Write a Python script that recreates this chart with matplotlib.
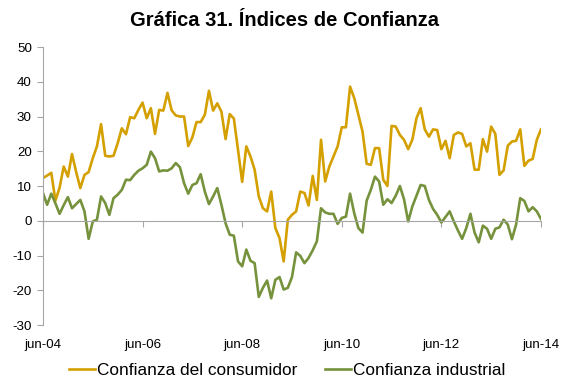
import numpy as np
import matplotlib.pyplot as plt
from matplotlib.lines import Line2D

plt.rcParams['font.family'] = ['Liberation Sans', 'DejaVu Sans']
plt.rcParams['axes.unicode_minus'] = False

# monthly series, jun-04 to jun-14
consumidor = [
    12.3, 13.0, 13.8, 5.8, 9.5, 15.6, 12.7, 19.2, 14.0, 9.4,
    13.2, 14.0, 18.0, 21.4, 27.8, 18.7, 18.5, 18.7, 22.3, 26.6,
    24.9, 29.8, 29.5, 31.9, 34.0, 29.5, 32.4, 25.0, 31.9, 31.7,
    36.8, 31.8, 30.3, 30.0, 30.0, 21.5, 24.0, 28.4, 28.4, 30.5,
    37.4, 31.7, 33.8, 31.4, 23.5, 30.7, 29.4, 20.4, 11.2, 21.4,
    18.5, 14.7, 7.0, 3.6, 2.7, 8.4, -2.1, -5.0, -11.7, 0.3,
    1.7, 2.7, 8.4, 8.0, 4.4, 12.9, 6.0, 23.3, 11.3, 15.6,
    18.5, 21.4, 26.9, 26.9, 38.6, 35.3, 30.5, 25.7, 16.4, 16.1,
    20.9, 20.9, 11.8, 10.0, 27.3, 27.1, 24.7, 23.3, 20.6, 23.3,
    29.5, 32.4, 26.3, 24.2, 26.3, 26.1, 20.6, 23.0, 18.0, 24.7,
    25.4, 25.0, 21.4, 22.3, 14.7, 14.7, 23.5, 19.9, 27.1, 25.0,
    13.2, 14.5, 21.6, 22.8, 23.0, 26.3, 15.8, 17.3, 17.8, 23.3,
    26.3,
]

industrial = [
    8.0, 4.6, 7.8, 5.0, 2.0, 4.5, 6.8, 3.6, 4.8, 6.0,
    2.7, -5.2, -0.2, 0.3, 7.0, 5.1, 1.7, 6.5, 7.5, 8.9,
    11.8, 11.7, 13.2, 14.4, 15.1, 16.1, 19.9, 18.0, 14.2, 14.5,
    14.4, 15.1, 16.6, 15.4, 10.8, 7.8, 10.3, 10.8, 13.4, 8.4,
    4.8, 7.0, 9.4, 4.6, -0.7, -4.0, -4.3, -11.7, -13.1, -8.3,
    -11.5, -12.2, -21.9, -19.3, -17.2, -22.3, -17.0, -16.2, -19.8, -19.3,
    -16.2, -9.1, -10.1, -12.2, -10.7, -8.5, -5.9, 3.6, 2.4, 2.0,
    2.0, -0.9, 0.8, 1.2, 7.8, 2.2, -2.1, -3.4, 5.8, 8.9,
    12.7, 11.3, 4.6, 6.2, 5.1, 7.2, 10.0, 6.2, -0.2, 4.1,
    7.2, 10.3, 10.0, 6.0, 3.4, 1.7, -0.5, 1.1, 2.7, -0.2,
    -2.8, -5.2, -2.1, 2.0, -3.4, -6.2, -1.4, -2.3, -5.2, -2.3,
    -1.9, 0.3, -1.1, -5.3, -1.1, 6.5, 5.7, 2.7, 3.9, 2.7,
    0.5,
]

etiquetas = ["jun-04", "jun-06", "jun-08", "jun-10", "jun-12", "jun-14"]
posiciones = [0, 24, 48, 72, 96, 120]

color_cons = "#D4A000"
color_ind = "#76923C"
gris = "#A6A6A6"

meses = np.arange(len(consumidor))

fig = plt.figure(figsize=(5.61, 3.77), dpi=100)
ax = fig.add_axes([0.0766, 0.1379, 0.8877, 0.7374])

ax.plot(meses, consumidor, color=color_cons, lw=1.9, solid_joinstyle="round")
ax.plot(meses, industrial, color=color_ind, lw=1.9, solid_joinstyle="round")

ax.set_xlim(0, 120)
ax.set_ylim(-30, 50)
ax.set_yticks(range(-30, 51, 10))

for s in ["top", "right"]:
    ax.spines[s].set_visible(False)
ax.spines["left"].set_color(gris)
ax.spines["bottom"].set_color(gris)
ax.spines["bottom"].set_position(("data", 0))

ax.set_xticks(posiciones)
ax.tick_params(axis="x", labelbottom=False, direction="out", length=4, color=gris)
ax.tick_params(axis="y", direction="out", length=4, color=gris, labelsize=9.6, pad=4)

# category labels sit below the plot, not on the zero line
sec = ax.secondary_xaxis(0)
sec.set_xticks(posiciones, etiquetas)
sec.spines["bottom"].set_visible(False)
sec.tick_params(length=0, labelsize=9.6, pad=10)

fig.text(0.507, 0.945, "Gráfica 31. Índices de Confianza", ha="center", va="center",
         fontsize=14.5, fontweight="bold")

handles = [Line2D([], [], color=color_cons, lw=1.9),
           Line2D([], [], color=color_ind, lw=1.9)]
fig.legend(handles, ["Confianza del consumidor", "Confianza industrial"],
           loc="lower center", bbox_to_anchor=(0.512, -0.045), ncol=2, frameon=False,
           fontsize=12.4, handlelength=1.5, handletextpad=0.1, columnspacing=1.65)

fig.savefig("out.png", dpi=100)
